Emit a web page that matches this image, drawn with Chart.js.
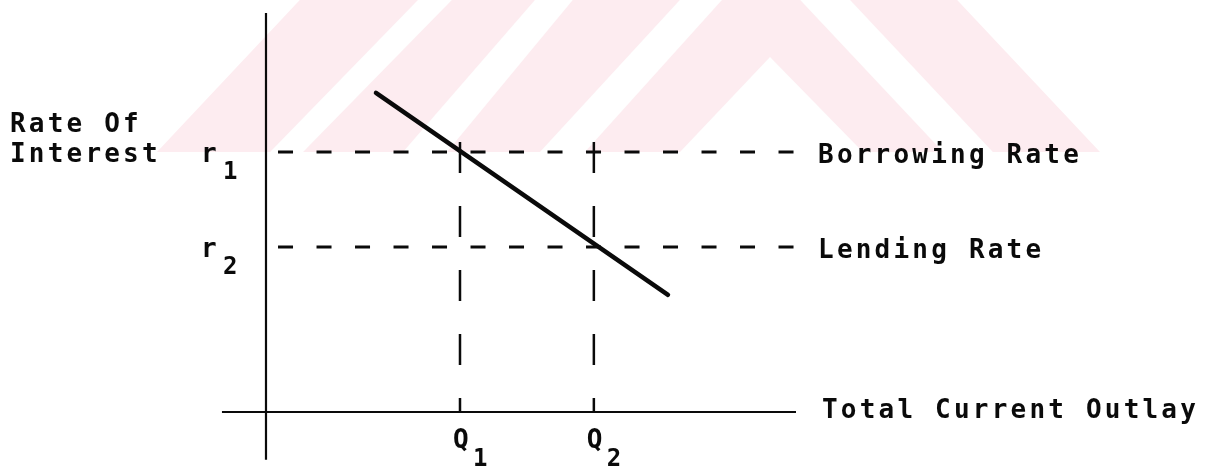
<!DOCTYPE html>
<html>
<head>
<meta charset="utf-8">
<script src="https://cdn.jsdelivr.net/npm/chart.js@4.4.0/dist/chart.umd.min.js"></script>
<style>
  html, body { margin: 0; padding: 0; background: #fff; }
  #wrap { width: 1219px; height: 467px; }
</style>
</head>
<body>
<div id="wrap"><canvas id="myChart"></canvas></div>
<script>
// sloping schedule
const demandX = [5.67, 20.72];
const demandY = [9.67, 3.55];

// interest rates r1, r2
const rateValues = [7.88, 5.0];
const rateNames = ['Borrowing Rate', 'Lending Rate'];
const rateSubs = ['1', '2'];

// outlays Q1, Q2
const quantityValues = [10, 16.9];
const quantitySubs = ['1', '2'];

const axisLabelY = ['Rate Of', 'Interest'];
const axisLabelX = 'Total Current Outlay';

// extents of the drawn axes and guide lines
const xAxisRange = [-2.27, 27.32];
const yAxisRange = [-1.45, 12.09];
const rateLineRange = [0.62, 27.22];
const quantityLineTop = 8.18;

// faint watermark behind the figure (data units)
const markPink = [[-5.62, 7.88], [1.75, 12.49], [35.62, 12.49], [42.99, 7.88]];
const markWhite = [
    [[0.21, 7.88], [1.91, 7.88], [9.59, 12.49], [7.84, 12.49]],
    [[7.06, 7.88], [9.33, 7.88], [15.82, 12.49], [13.87, 12.49]],
    [[14.12, 7.88], [16.44, 7.88], [23.51, 12.49], [21.34, 12.49]],
    [[34.9, 7.88], [37.47, 7.88], [30.1, 12.49], [27.53, 12.49]],
    [[21.34, 7.88], [30.77, 7.88], [25.98, 10.76]]
];

const ink = '#0a0a0a';

const watermarkPlugin = {
    id: 'watermark',
    beforeDatasetsDraw(chart) {
        const { ctx, scales: { x, y } } = chart;
        const poly = (pts, color) => {
            ctx.beginPath();
            pts.forEach((p, i) => {
                const px = x.getPixelForValue(p[0]);
                const py = y.getPixelForValue(p[1]);
                if (i === 0) ctx.moveTo(px, py); else ctx.lineTo(px, py);
            });
            ctx.closePath();
            ctx.fillStyle = color;
            ctx.fill();
        };
        ctx.save();
        poly(markPink, '#fdecf0');
        markWhite.forEach(p => poly(p, '#ffffff'));
        ctx.restore();
    }
};

const labelPlugin = {
    id: 'labels',
    afterDatasetsDraw(chart) {
        const { ctx, scales: { x, y } } = chart;
        const ox = x.getPixelForValue(0);
        const oy = y.getPixelForValue(0);
        const big = 'bold 26px "DejaVu Sans Mono"';
        const small = 'bold 24px "DejaVu Sans Mono"';
        ctx.save();
        ctx.fillStyle = ink;
        ctx.textBaseline = 'alphabetic';
        ctx.textAlign = 'left';
        ctx.font = big;
        ctx.letterSpacing = '3.2px';

        const r1px = y.getPixelForValue(rateValues[0]);
        ctx.fillText(axisLabelY[0], 10, r1px - 20);
        ctx.fillText(axisLabelY[1], 10, r1px + 10);

        const lineEnd = x.getPixelForValue(rateLineRange[1]);
        rateValues.forEach((r, i) => {
            const py = y.getPixelForValue(r);
            ctx.font = big;
            ctx.fillText(rateNames[i], lineEnd + 24, py + 11);
            ctx.fillText('r', ox - 65, py + 10);
            ctx.font = small;
            ctx.fillText(rateSubs[i], ox - 43, py + 27);
        });

        ctx.font = big;
        ctx.fillText(axisLabelX, x.getPixelForValue(xAxisRange[1]) + 26, oy + 6);

        quantityValues.forEach((q, i) => {
            const px = x.getPixelForValue(q);
            ctx.font = big;
            ctx.fillText('Q', px - 7, oy + 36);
            ctx.font = small;
            ctx.fillText(quantitySubs[i], px + 13, oy + 54);
        });
        ctx.restore();
    }
};

const lineStyle = {
    borderColor: ink,
    pointRadius: 0,
    showLine: true,
    fill: false,
    tension: 0
};

const datasets = [
    { ...lineStyle, borderWidth: 2.2, data: [{ x: 0, y: yAxisRange[1] }, { x: 0, y: yAxisRange[0] }] },
    { ...lineStyle, borderWidth: 2.2, data: [{ x: xAxisRange[0], y: 0 }, { x: xAxisRange[1], y: 0 }] },
    ...rateValues.map(r => ({
        ...lineStyle, borderWidth: 3, borderDash: [15, 23.5],
        data: [{ x: rateLineRange[0], y: r }, { x: rateLineRange[1], y: r }]
    })),
    ...quantityValues.map(q => ({
        ...lineStyle, borderWidth: 2.5, borderDash: [31, 33],
        data: [{ x: q, y: quantityLineTop }, { x: q, y: 0 }]
    })),
    {
        ...lineStyle, borderWidth: 4.5, borderCapStyle: 'round',
        data: demandX.map((v, i) => ({ x: v, y: demandY[i] }))
    }
];

const ctx = document.getElementById('myChart').getContext('2d');
window.chart = new Chart(ctx, {
    type: 'scatter',
    data: { datasets: datasets },
    options: {
        responsive: true,
        maintainAspectRatio: false,
        animation: false,
        layout: { padding: 0 },
        plugins: { legend: { display: false }, tooltip: { enabled: false } },
        scales: {
            x: { type: 'linear', min: -13.711, max: 49.124, display: false },
            y: { type: 'linear', min: -1.667, max: 12.485, display: false }
        }
    },
    plugins: [watermarkPlugin, labelPlugin]
});
</script>
</body>
</html>
